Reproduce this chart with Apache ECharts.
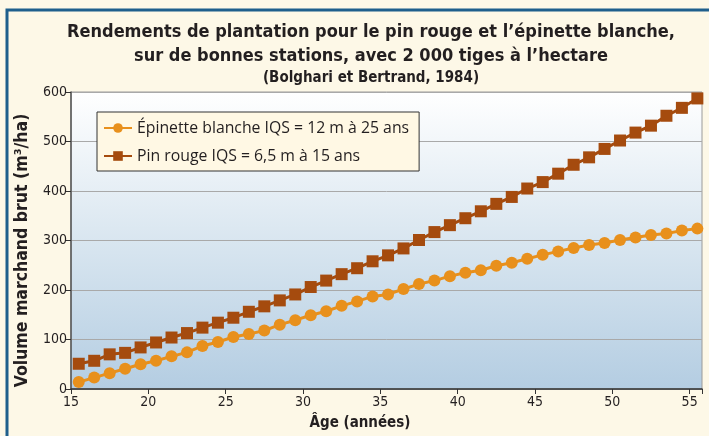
<!DOCTYPE html>
<html>
<head>
<meta charset="utf-8">
<script src="https://cdn.jsdelivr.net/npm/echarts@6/dist/echarts.min.js"></script>
<style>
  html, body { margin: 0; padding: 0; background: #fdf8e7; }
  #chart { width: 709px; height: 436px; }
</style>
</head>
<body>
<div id="chart"></div>
<script>
// ages (années), one point per year
const ages = [15.5, 16.5, 17.5, 18.5, 19.5, 20.5, 21.5, 22.5, 23.5, 24.5,
  25.5, 26.5, 27.5, 28.5, 29.5, 30.5, 31.5, 32.5, 33.5, 34.5,
  35.5, 36.5, 37.5, 38.5, 39.5, 40.5, 41.5, 42.5, 43.5, 44.5,
  45.5, 46.5, 47.5, 48.5, 49.5, 50.5, 51.5, 52.5, 53.5, 54.5, 55.5]

// volume marchand brut (m³/ha)
const epinetteBlanche = [14, 23, 32, 41, 50, 57, 66, 74, 87, 95,
  105, 111, 118, 130, 139, 149, 157, 168, 177, 187,
  191, 202, 212, 219, 228, 235, 240, 249, 255, 263,
  271, 278, 285, 291, 295, 301, 306, 311, 314, 320, 324]

const pinRouge = [51, 57, 70, 73, 84, 94, 104, 113, 124, 134,
  144, 156, 167, 179, 191, 206, 219, 232, 244, 258,
  270, 284, 301, 317, 331, 345, 359, 374, 388, 405,
  418, 435, 453, 468, 485, 502, 518, 532, 552, 568, 587]

const seriesNames = ['Épinette blanche IQS = 12 m à 25 ans', 'Pin rouge IQS = 6,5 m à 15 ans']
const titleLines = ['Rendements de plantation pour le pin rouge et l’épinette blanche,', 'sur de bonnes stations, avec 2 000 tiges à l’hectare']
const sourceLine = '(Bolghari et Bertrand, 1984)'

const condensed = "'Liberation Sans Narrow', 'DejaVu Sans Condensed', 'Roboto Condensed', 'Liberation Sans', sans-serif"
const textColor = '#231f20'

const chart = echarts.init(document.getElementById('chart'))

const pair = (ys) => ages.map((a, i) => [a, ys[i]])

chart.setOption({
  animation: false,
  backgroundColor: '#fdf8e7',
  graphic: [
    { type: 'polyline', shape: { points: [[7, 436], [7, 10], [709, 10]] }, style: { stroke: '#1f5f8c', lineWidth: 3, fill: null } },
  ],
  title: {
    text: titleLines.join('\n'),
    subtext: sourceLine,
    left: 366,
    top: 15,
    textAlign: 'center',
    itemGap: 3,
    textStyle: { fontFamily: condensed, fontSize: 18, fontWeight: 'bold', color: textColor, lineHeight: 24 },
    subtextStyle: { fontFamily: condensed, fontSize: 15, fontWeight: 'bold', color: textColor },
  },
  legend: {
    orient: 'vertical',
    left: 97,
    top: 112,
    padding: [8, 10, 7, 6],
    itemGap: 12,
    itemWidth: 28,
    itemHeight: 12,
    backgroundColor: '#fff8e4',
    borderColor: '#333',
    borderWidth: 1,
    textStyle: { fontFamily: "'Open Sans', 'Noto Sans', sans-serif", fontSize: 15.8, color: textColor },
    data: seriesNames,
  },
  grid: {
    left: 71, right: 7, top: 92, bottom: 46,
    show: true,
    borderColor: '#9a9a9a',
    borderWidth: 1,
    backgroundColor: { type: 'linear', x: 0, y: 0, x2: 0, y2: 1, colorStops: [
      { offset: 0, color: '#ffffff' }, { offset: 0.5, color: '#d9e6f0' }, { offset: 1, color: '#b4cde2' },
    ] },
  },
  xAxis: {
    type: 'value', min: 15, max: 55.8, interval: 5,
    name: 'Âge (années)', nameLocation: 'middle', nameGap: 27,
    nameTextStyle: { fontFamily: condensed, fontSize: 15, fontWeight: 'bold', color: textColor, padding: [0, 53, 0, 0] },
    axisLine: { lineStyle: { color: '#333', width: 1.5 } },
    axisTick: { length: 5, lineStyle: { color: '#333' } },
    axisLabel: { fontFamily: condensed, fontSize: 14, color: textColor, margin: 6,
      formatter: (v) => (v % 5 === 0 ? String(v) : '') },
    splitLine: { show: false },
  },
  yAxis: {
    type: 'value', min: 0, max: 600, interval: 100,
    name: 'Volume marchand brut (m³/ha)', nameLocation: 'middle', nameGap: 40,
    nameTextStyle: { fontFamily: condensed, fontSize: 17.5, fontWeight: 'bold', color: textColor, padding: [0, 20, 0, 0] },
    axisLine: { show: true, lineStyle: { color: '#555', width: 1.5 } },
    axisTick: { show: true, length: 5, lineStyle: { color: '#333' } },
    axisLabel: { fontFamily: condensed, fontSize: 14, color: textColor, margin: 4 },
    splitLine: { lineStyle: { color: '#a9a9a9', width: 1 } },
  },
  series: [
    {
      name: seriesNames[0], type: 'line', data: pair(epinetteBlanche),
      symbol: 'circle', symbolSize: 12,
      lineStyle: { color: '#e8901c', width: 3 },
      itemStyle: { color: '#e8901c' },
    },
    {
      name: seriesNames[1], type: 'line', data: pair(pinRouge),
      symbol: 'rect', symbolSize: 12,
      lineStyle: { color: '#a54b0e', width: 3 },
      itemStyle: { color: '#a54b0e' },
    },
  ],
})
</script>
</body>
</html>
